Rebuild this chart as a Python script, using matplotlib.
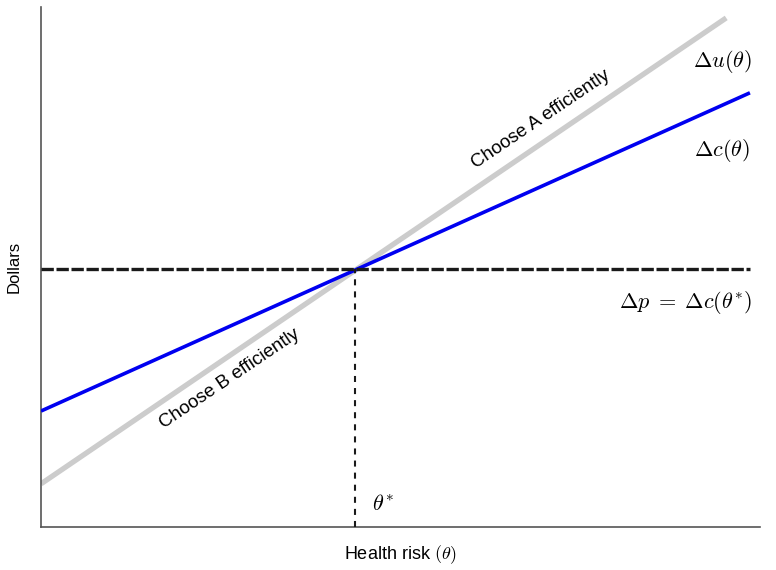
import matplotlib
matplotlib.use("Agg")
import matplotlib.pyplot as plt

plt.rcParams["font.family"] = ["Liberation Sans", "DejaVu Sans"]
plt.rcParams["mathtext.fontset"] = "cm"

# Health risk (theta) on a 0-1 scale, dollars on a 0-1 scale
theta_c = [0.0, 0.986]
delta_c = [0.223, 0.835]
theta_u = [0.0, 0.953]
delta_u = [0.083, 0.979]
theta_p = [0.0, 0.986]
delta_p = 0.497
theta_star = 0.437

fig = plt.figure(figsize=(7.76, 5.70), dpi=100)
ax = fig.add_axes([41 / 776, 1 - 527 / 570, 719 / 776, 520 / 570])
ax.set_xlim(0, 1)
ax.set_ylim(0, 1)

ax.plot(theta_u, delta_u, color="#cccccc", lw=3.8, solid_capstyle="butt", zorder=2)
ax.plot(theta_c, delta_c, color="#0000f0", lw=2.6, solid_capstyle="butt", zorder=3)
ax.plot(theta_p, [delta_p, delta_p], color="#1a1a1a", lw=2.4, ls=(0, (3.7, 0.8)), zorder=4)
ax.plot([theta_star, theta_star], [0, delta_p], color="#1a1a1a", lw=1.5, ls=(0, (2.9, 2.9)), zorder=4)

for s in ["top", "right"]:
    ax.spines[s].set_visible(False)
for s in ["left", "bottom"]:
    ax.spines[s].set_color("#555555")
    ax.spines[s].set_linewidth(1.2)
ax.set_xticks([])
ax.set_yticks([])

ax.set_xlabel(r"Health risk $(\theta)$", fontsize=13, labelpad=12)
ax.set_ylabel("Dollars", fontsize=12, labelpad=14)

ax.text(0.948, 0.895, r"$\Delta u(\theta)$", fontsize=16, ha="center", va="center")
ax.text(0.947, 0.725, r"$\Delta c(\theta)$", fontsize=16, ha="center", va="center")
ax.text(0.896, 0.431, r"$\Delta p \;=\; \Delta c(\theta^{*})$", fontsize=16, ha="center", va="center")
ax.text(0.476, 0.042, r"$\theta^{*}$", fontsize=16, ha="center", va="center")

ax.text(0.695, 0.783, "Choose A efficiently", fontsize=13.5, ha="center", va="center",
        rotation=34, rotation_mode="anchor")
ax.text(0.263, 0.285, "Choose B efficiently", fontsize=13.5, ha="center", va="center",
        rotation=34, rotation_mode="anchor")

fig.savefig("out.png", dpi=100)
